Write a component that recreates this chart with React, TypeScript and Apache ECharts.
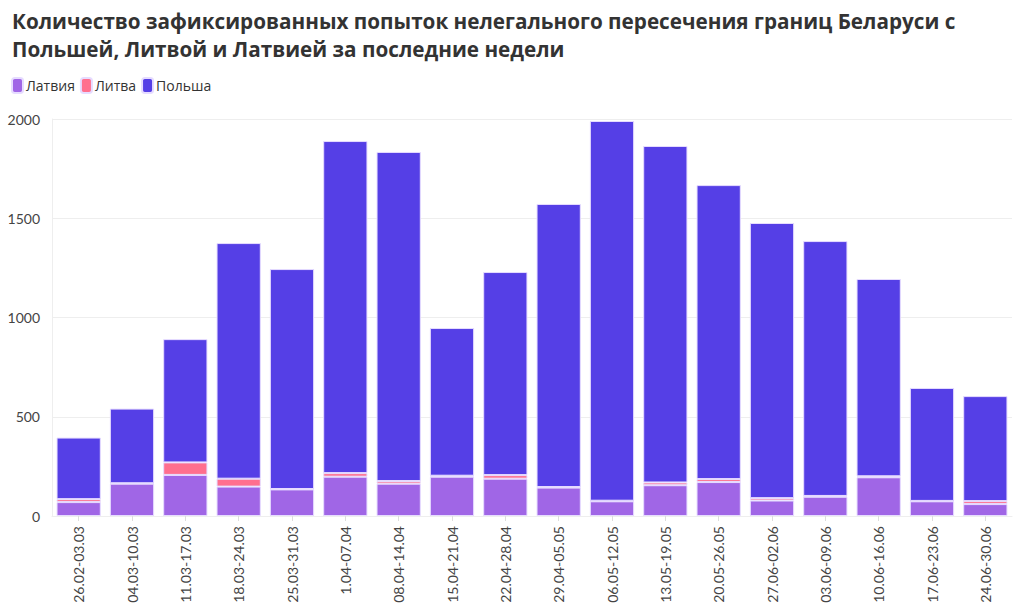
import React, { useEffect, useRef } from "react";
import * as echarts from "echarts";

const categories = [
  "26.02-03.03", "04.03-10.03", "11.03-17.03", "18.03-24.03", "25.03-31.03", "1.04-07.04",
  "08.04-14.04", "15.04-21.04", "22.04-28.04", "29.04-05.05", "06.05-12.05", "13.05-19.05",
  "20.05-26.05", "27.06-02.06", "03.06-09.06", "10.06-16.06", "17.06-23.06", "24.06-30.06",
];
const totals = [395, 541, 891, 1375, 1244, 1889, 1834, 947, 1229, 1572, 1990, 1864, 1667, 1476, 1385, 1194, 645, 604];
const latvia = [70, 163, 207, 148, 134, 198, 163, 198, 188, 143, 74, 155, 171, 78, 97, 195, 74, 60];
const lithuania = [15, 2, 63, 40, 2, 18, 13, 5, 18, 3, 3, 14, 15, 12, 4, 5, 2, 15];
const poland = totals.map((t, i) => t - latvia[i] - lithuania[i]);
const yTicks = [0, 500, 1000, 1500, 2000];

const titleText =
  "Количество зафиксированных попыток нелегального пересечения границ Беларуси с\nПольшей, Литвой и Латвией за последние недели";

export default function App() {
  const ref = useRef<HTMLDivElement>(null);
  useEffect(() => {
    const chart = echarts.init(ref.current!, null, { renderer: "svg" });
    const font = "Lato, 'Noto Sans', sans-serif";
    const barStyle = (color: string) => ({
      color,
      borderColor: "#e6dcff",
      borderWidth: 1,
    });
    chart.setOption({
      animation: false,
      textStyle: { fontFamily: font },
      title: {
        text: titleText,
        left: 7,
        top: 2,
        textStyle: {
          fontSize: 20.7,
          fontWeight: "bold",
          color: "#333333",
          lineHeight: 28,
          fontFamily: "'Open Sans', sans-serif",
        },
      },
      legend: {
        left: 6,
        top: 72,
        itemWidth: 11,
        itemHeight: 15,
        itemGap: 5,
        icon: "roundRect",
        textStyle: { fontSize: 14, color: "#333333", fontFamily: "'Open Sans', sans-serif", padding: [0, 0, 0, -2] },
        data: ["Латвия", "Литва", "Польша"],
      },
      grid: { left: 52, right: 12, top: 119, bottom: 94, containLabel: false },
      xAxis: {
        type: "category",
        data: categories,
        axisLine: { show: true, lineStyle: { color: "#eeeeee" } },
        axisTick: { show: true, alignWithLabel: true, length: 5, lineStyle: { color: "#dddddd" } },
        axisLabel: { rotate: 90, fontSize: 14, color: "#444444", margin: 10 },
      },
      yAxis: {
        type: "value",
        min: yTicks[0],
        max: yTicks[yTicks.length - 1],
        interval: 500,
        axisLine: { show: true, lineStyle: { color: "#eeeeee" } },
        axisTick: { show: false },
        splitLine: { lineStyle: { color: "#eeeeee" } },
        axisLabel: { fontSize: 14, color: "#444444", margin: 12, formatter: (v: number) => String(v) },
      },
      series: [
        {
          name: "Латвия",
          type: "bar",
          stack: "s",
          data: latvia,
          barCategoryGap: "17%",
          itemStyle: barStyle("#a066e6"),
        },
        {
          name: "Литва",
          type: "bar",
          stack: "s",
          data: lithuania,
          itemStyle: barStyle("#ff6f8e"),
        },
        {
          name: "Польша",
          type: "bar",
          stack: "s",
          data: poland,
          itemStyle: barStyle("#553fe6"),
        },
      ],
    });
    return () => chart.dispose();
  }, []);
  return <div ref={ref} style={{ width: 1024, height: 610, position: "absolute", left: 0, top: 0 }} />;
}
